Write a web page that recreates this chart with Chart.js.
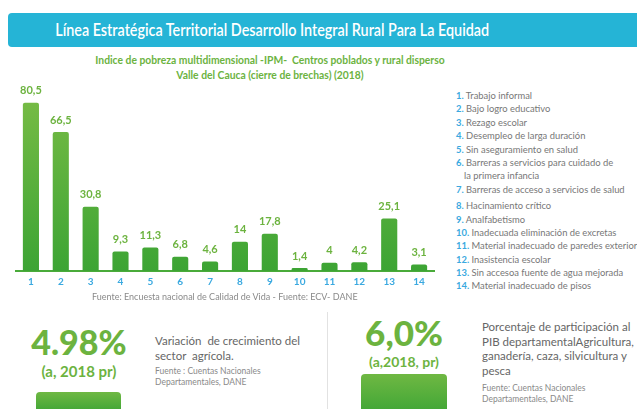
<!DOCTYPE html>
<html lang="es">
<head>
<meta charset="utf-8">
<script src="https://cdn.jsdelivr.net/npm/chart.js@4"></script>
<style>
  html, body { margin: 0; padding: 0; background: #fff; }
  body { width: 637px; height: 409px; position: relative; overflow: hidden; font-family: Lato, "Open Sans", sans-serif; }
  .header {
    position: absolute; left: 8px; top: 13px; width: 660px; height: 34px;
    background: #25b4d6; border-radius: 4px;
  }
  .header span {
    position: absolute; left: 0; width: 525px; top: 0; line-height: 34px;
    text-align: center; color: #fff; font-size: 17.5px; font-weight: 600;
    white-space: nowrap; transform: scaleX(0.82); transform-origin: center;
  }
  .subtitle {
    position: absolute; left: 0; width: 540px; top: 52px;
    text-align: center; color: #6cb33f; font-size: 12px; font-weight: 700; line-height: 15px;
    white-space: nowrap; transform: scaleX(0.86); transform-origin: center;
  }
  #chartBox { position: absolute; left: 0; top: 80px; width: 440px; height: 220px; }
  .source {
    position: absolute; left: 92px; top: 291px; color: #8a8a8a; font-size: 9px;
  }
  .legend { position: absolute; left: 456px; top: 89px; font-size: 9.4px; color: #777; }
  .legend div { height: 13.4px; line-height: 13.4px; white-space: nowrap; }
  .legend b { color: #3aa9e0; }
  .big { position: absolute; color: #6cb33f; font-weight: 900; text-align: center; }
  .small { position: absolute; color: #6cb33f; font-weight: 700; text-align: center; }
  .desc { position: absolute; color: #666; font-size: 11.5px; line-height: 14.5px; }
  .fuente { position: absolute; color: #8a8a8a; font-size: 8.5px; line-height: 11px; }
  .block {
    position: absolute; border-radius: 4px 4px 0 0;
    background: linear-gradient(#6fb843, #3ea535);
  }
  .sep { position: absolute; left: 327px; top: 312px; width: 1px; height: 100px; background: #e2e2e2; }
</style>
</head>
<body>
<div class="header"><span>Línea Estratégica Territorial Desarrollo Integral Rural Para La Equidad</span></div>
<div class="subtitle">Indice de pobreza multidimensional -IPM-&nbsp; Centros poblados y rural disperso<br>Valle del Cauca (cierre de brechas) (2018)</div>

<div id="chartBox"><canvas id="ipmChart"></canvas></div>
<div class="source">Fuente: Encuesta nacional de Calidad de Vida - Fuente: ECV- DANE</div>
<div class="legend" id="legend"></div>

<div class="big" style="left:19px; width:120px; top:322px; font-size:34px; line-height:40px;">4.98%</div>
<div class="small" style="left:19px; width:120px; top:362px; font-size:15px;">(a, 2018 pr)</div>
<div class="block" style="left:36px; top:392px; width:85px; height:20px;"></div>
<div class="desc" style="left:155px; top:334px;">Variación&nbsp; de crecimiento del<br>sector&nbsp; agrícola.</div>
<div class="fuente" style="left:155px; top:366px;">Fuente : Cuentas Nacionales<br>Departamentales, DANE</div>

<div class="sep"></div>
<div class="big" style="left:344px; width:120px; top:312px; font-size:35px; line-height:40px;">6,0%</div>
<div class="small" style="left:344px; width:120px; top:353px; font-size:14px;">(a,2018, pr)</div>
<div class="block" style="left:361px; top:374px; width:86px; height:40px;"></div>
<div class="desc" style="left:482px; top:320px;">Porcentaje de participación al<br>PIB departamentalAgricultura,<br>ganadería, caza, silvicultura y<br>pesca</div>
<div class="fuente" style="left:482px; top:383px;">Fuente: Cuentas Nacionales<br>Departamentales, DANE</div>

<script>
'use strict';

const categories = ['1', '2', '3', '4', '5', '6', '7', '8', '9', '10', '11', '12', '13', '14'];
const ipmValues  = [80.5, 66.5, 30.8, 9.3, 11.3, 6.8, 4.6, 14, 17.8, 1.4, 4, 4.2, 25.1, 3.1];
const legendItems = [
  'Trabajo informal',
  'Bajo logro educativo',
  'Rezago escolar',
  'Desempleo de larga duración',
  'Sin aseguramiento en salud',
  'Barreras a servicios para cuidado de|la primera infancia',
  'Barreras de acceso a servicios de salud',
  'Hacinamiento crítico',
  'Analfabetismo',
  'Inadecuada eliminación de excretas',
  'Material inadecuado de paredes exteriores',
  'Inasistencia escolar',
  'Sin accesoa fuente de agua mejorada',
  'Material inadecuado de pisos',
];

const GREEN = '#6cb33f';
const BLUE  = '#3aa9e0';

// legend list on the right
const legendEl = document.getElementById('legend');
legendItems.forEach((txt, i) => {
  const parts = txt.split('|');
  const row = document.createElement('div');
  row.innerHTML = `<b>${i + 1}.</b> ${parts[0]}`;
  if (i === 7) row.style.marginTop = '3px';
  legendEl.appendChild(row);
  if (parts[1]) {
    const cont = document.createElement('div');
    cont.style.paddingLeft = '8px';
    cont.textContent = parts[1];
    legendEl.appendChild(cont);
  }
});

// value labels above bars
const valueLabels = {
  id: 'valueLabels',
  afterDatasetsDraw(chart) {
    const ctx = chart.ctx;
    const meta = chart.getDatasetMeta(0);
    ctx.save();
    ctx.fillStyle = GREEN;
    ctx.font = 'bold 11px Lato, sans-serif';
    ctx.textAlign = 'center';
    ctx.textBaseline = 'middle';
    meta.data.forEach((bar, i) => {
      const txt = String(ipmValues[i]).replace('.', ',');
      ctx.fillText(txt, bar.x, bar.y - 12);
    });
    ctx.restore();
  },
};

new Chart(document.getElementById('ipmChart').getContext('2d'), {
  type: 'bar',
  data: {
    labels: categories,
    datasets: [{
      data: ipmValues,
      backgroundColor: (c) => {
        const area = c.chart.chartArea;
        if (!area) return '#5ab03c';
        const g = c.chart.ctx.createLinearGradient(0, area.top, 0, area.bottom);
        g.addColorStop(0, '#7bbd46');
        g.addColorStop(1, '#3ca434');
        return g;
      },
      borderRadius: { topLeft: 2, topRight: 2 },
      borderSkipped: 'bottom',
      barPercentage: 0.54,
      categoryPercentage: 1,
    }],
  },
  options: {
    responsive: true,
    maintainAspectRatio: false,
    animation: false,
    layout: { padding: { left: 16, right: 6, top: 5, bottom: 0 } },
    plugins: { legend: { display: false }, tooltip: { enabled: false } },
    scales: {
      x: {
        grid: { display: false, drawTicks: false },
        border: { color: '#4aab3a', width: 2 },
        afterFit: scale => { scale.height = 29; },
        ticks: { color: BLUE, font: { size: 10, weight: 'bold', family: 'Lato' }, padding: 5 },
      },
      y: { display: false, min: 0, max: 89 },
    },
  },
  plugins: [valueLabels],
});
</script>
</body>
</html>
